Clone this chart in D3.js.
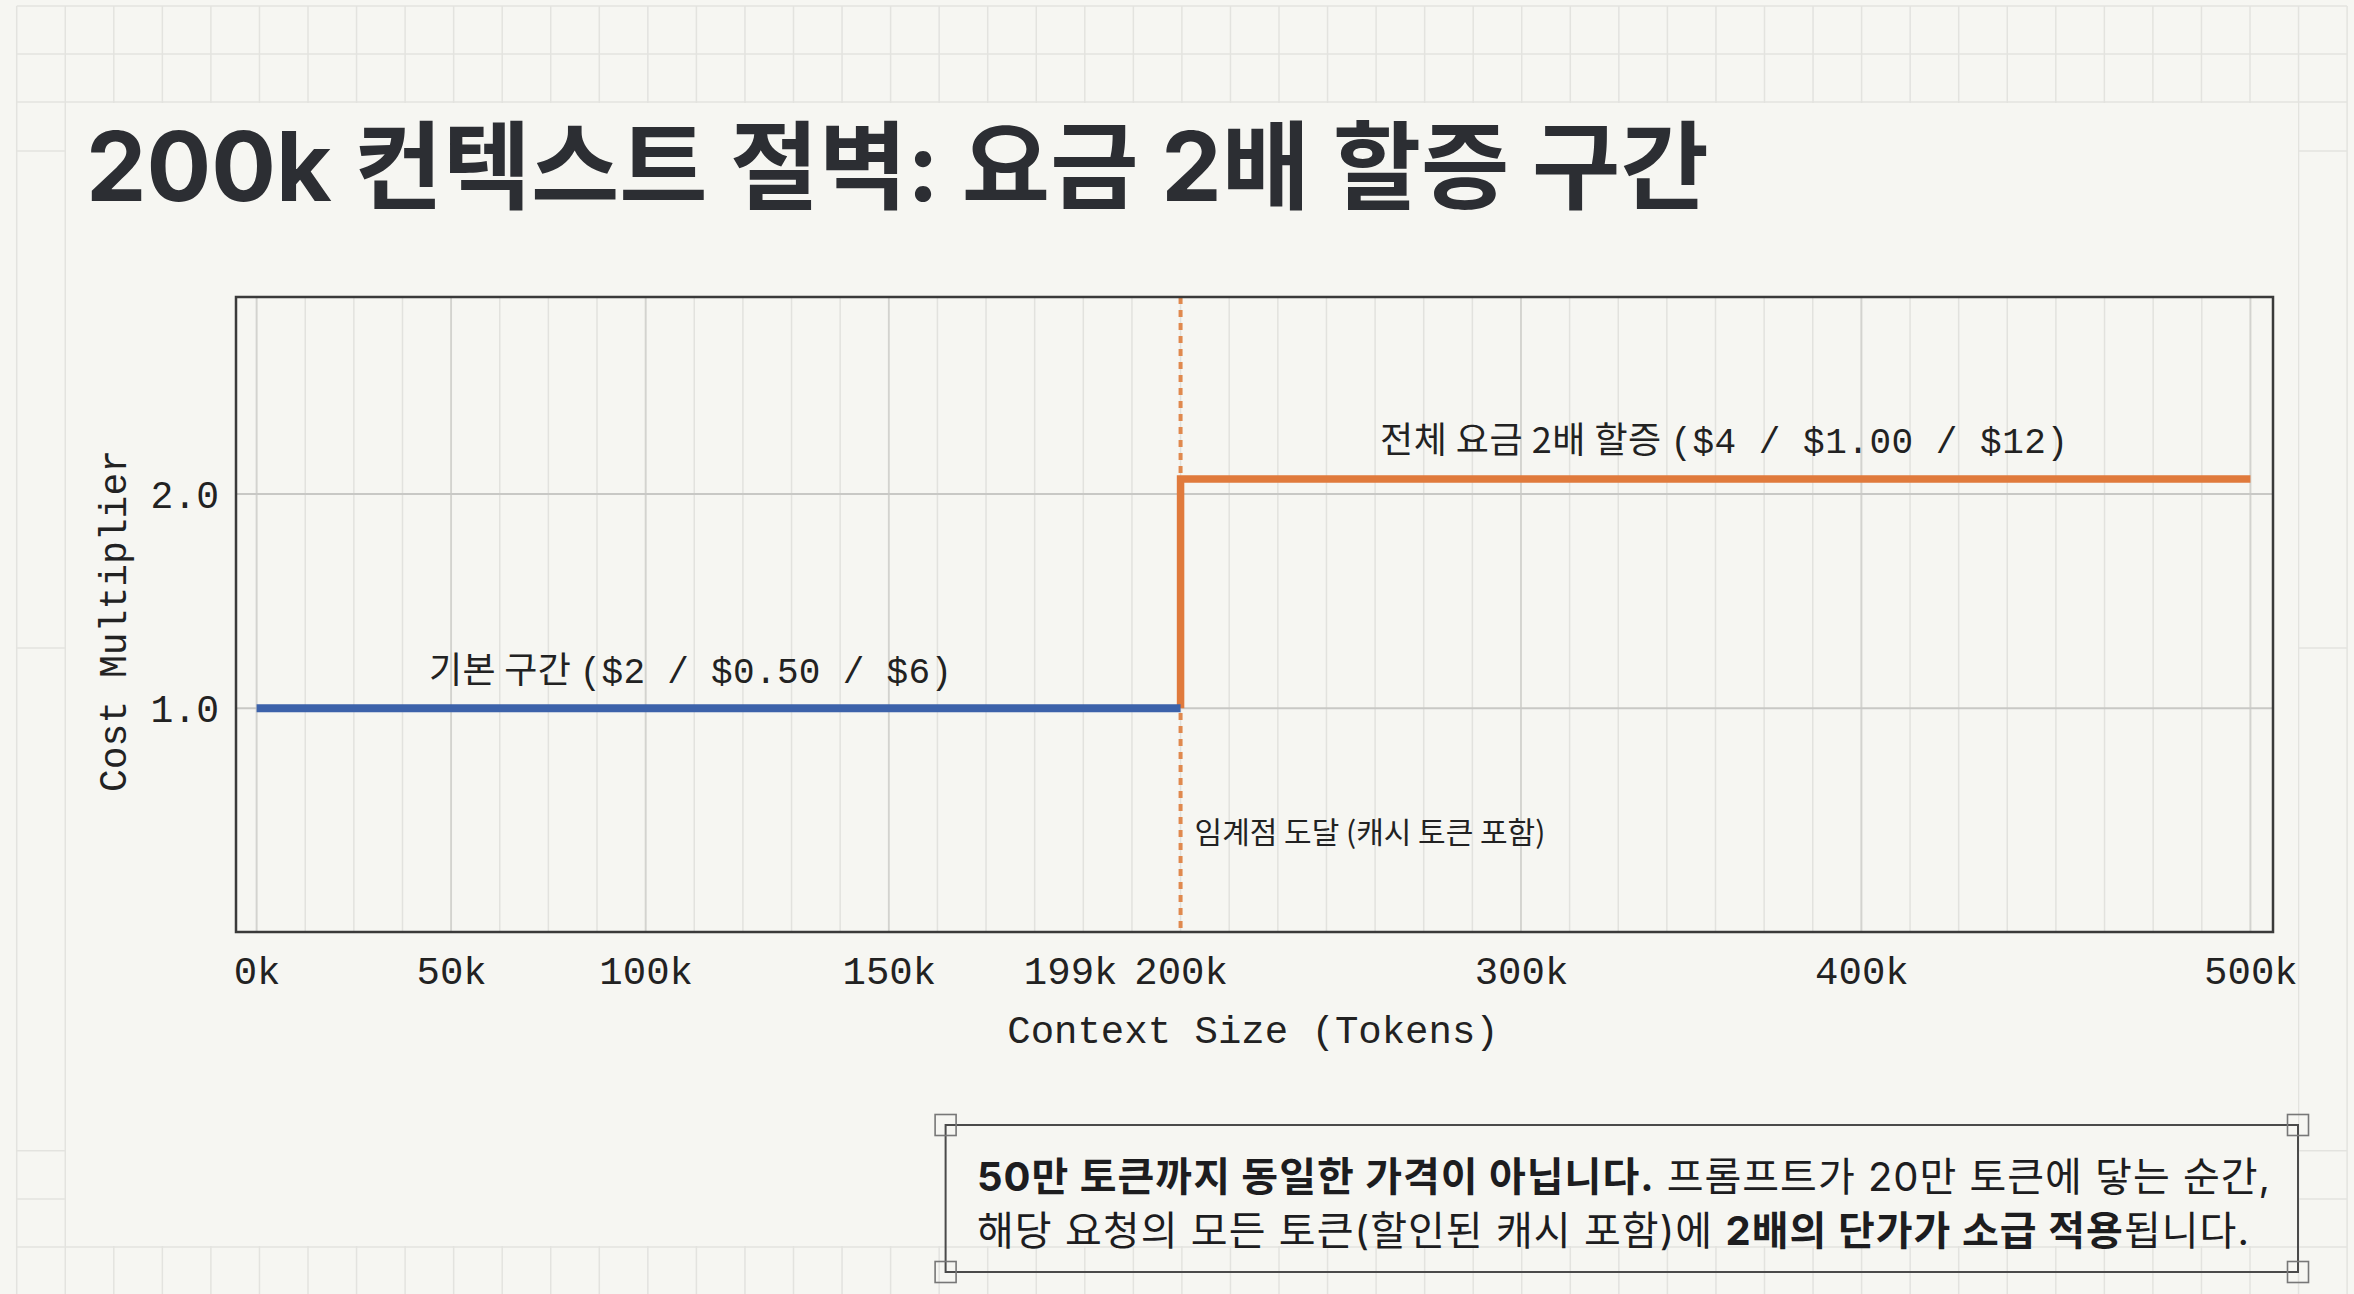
<!DOCTYPE html>
<html>
<head>
<meta charset="utf-8">
<script src="https://cdn.jsdelivr.net/npm/d3@7"></script>
<style>
  body { margin: 0; background: #f6f6f2; }
  svg { display: block; }
</style>
</head>
<body>
<div id="chart"></div>
<script>
// x axis ticks (thousands of tokens) and their labels
var tickValues = [0, 50, 100, 150, 199, 200, 300, 400, 500];
var tickLabels = ["0k", "50k", "100k", "150k", "199k", "200k", "300k", "400k", "500k"];
// the picture spaces the ticks unevenly; how many grid cells each tick sits from 0k
var tickCells = [0, 4, 8, 13, 16.73, 19, 26, 33, 41];
var yTicks = [1.0, 2.0];

// base pricing segment
var baseX = [0, 200];
var baseY = [1.0, 1.0];
// surcharge segment after the 200k cliff
var surchargeX = [200, 200, 500];
var surchargeY = [1.0, 2.07, 2.07];
var thresholdX = 200;

var titleText = "200k 컨텍스트 절벽: 요금 2배 할증 구간";
var baseLabel = ["기본 구간 ", "($2 / $0.50 / $6)"];
var surchargeLabel = ["전체 요금 2배 할증 ", "($4 / $1.00 / $12)"];
var thresholdLabel = "임계점 도달 (캐시 토큰 포함)";
var noteLine1 = [["50만 토큰까지 동일한 가격이 아닙니다.", true], [" 프롬프트가 20만 토큰에 닿는 순간,", false]];
var noteLine2 = [["해당 요청의 모든 토큰(할인된 캐시 포함)에 ", false], ["2배의 단가가 소급 적용", true], ["됩니다.", false]];

var W = 2354, H = 1294;
var bg = "#f6f6f2", gridCol = "#e3e3df";
var mono = "'Liberation Mono', 'Noto Sans CJK KR', monospace";
var kr = "'Noto Sans CJK KR', sans-serif";
var sans = "Inter, 'Noto Sans CJK KR', sans-serif";

var svg = d3.select("#chart").append("svg")
  .attr("width", W).attr("height", H);

svg.append("rect").attr("width", W).attr("height", H).attr("fill", bg);

// notebook grid behind the slide
var page = svg.append("g").attr("stroke", gridCol).attr("stroke-width", 1.5);
var cols = d3.range(0, 49).map(function(i) { return 16.7 + i * 48.55; });
page.selectAll(".gv").data(cols).enter().append("line")
  .attr("x1", d => d).attr("x2", d => d).attr("y1", 6).attr("y2", H);
page.selectAll(".gh").data([6, 54, 102, 1247]).enter().append("line")
  .attr("x1", 16.7).attr("x2", 2347).attr("y1", d => d).attr("y2", d => d);
[[16.7, 65], [2299, 2347]].forEach(function(s) {
  page.selectAll(null).data([151, 648, 1150.7, 1199]).enter().append("line")
    .attr("x1", s[0]).attr("x2", s[1]).attr("y1", d => d).attr("y2", d => d);
});
// plain content panel
svg.append("rect").attr("x", 66).attr("y", 103).attr("width", 2232).attr("height", 1143).attr("fill", bg);

// title
svg.append("text")
  .attr("x", 86).attr("y", 201)
  .style("font-family", sans).style("font-weight", 700).style("font-size", "96px")
  .attr("fill", "#2c2e33")
  .text(titleText);

// chart area
var margin = {top: 297, left: 236},
    w = 2037, h = 635;
var g = svg.append("g").attr("transform", `translate(${margin.left},${margin.top})`);

var x0 = 256.6 - margin.left, cell = 48.63;
const x = d3.scaleLinear()
  .domain(tickValues)
  .range(tickCells.map(c => x0 + c * cell));
const y = d3.scaleLinear()
  .domain([-0.045, 2.92])
  .range([h, 0]);

// minor vertical grid
var minor = d3.range(0, 42).map(i => x(0) + i * (x(500) - x(0)) / 41);
g.selectAll(".minor").data(minor).enter().append("line")
  .attr("x1", d => d).attr("x2", d => d).attr("y1", 0).attr("y2", h)
  .attr("stroke", "#e2e2de").attr("stroke-width", 1.5);
// major vertical grid at the round ticks
g.selectAll(".major").data(tickValues.filter(v => v % 50 === 0 && v !== thresholdX)).enter().append("line")
  .attr("x1", d => x(d)).attr("x2", d => x(d)).attr("y1", 0).attr("y2", h)
  .attr("stroke", "#d3d3cf").attr("stroke-width", 1.8);
// horizontal grid
g.selectAll(".hgrid").data(yTicks).enter().append("line")
  .attr("x1", 0).attr("x2", w).attr("y1", d => y(d)).attr("y2", d => y(d))
  .attr("stroke", "#c8c8c5").attr("stroke-width", 2);

// threshold marker
g.append("line")
  .attr("x1", x(thresholdX)).attr("x2", x(thresholdX)).attr("y1", 0).attr("y2", h)
  .attr("stroke", "#e0894e").attr("stroke-width", 4).attr("stroke-dasharray", "7,6");

var line = d3.line().x(d => x(d[0])).y(d => y(d[1]));
g.append("path")
  .datum(d3.zip(surchargeX, surchargeY))
  .attr("fill", "none").attr("stroke", "#e07a3c").attr("stroke-width", 7.5)
  .attr("d", line);
g.append("path")
  .datum(d3.zip(baseX, baseY))
  .attr("fill", "none").attr("stroke", "#3c62aa").attr("stroke-width", 8)
  .attr("d", line);

// frame
g.append("rect").attr("width", w).attr("height", h)
  .attr("fill", "none").attr("stroke", "#3a3a3a").attr("stroke-width", 2.5);

// axes
var xAxis = g.append("g").attr("transform", "translate(0," + h + ")")
  .call(d3.axisBottom(x).tickValues(tickValues).tickFormat((d, i) => tickLabels[i]).tickSize(0).tickPadding(0));
xAxis.select(".domain").remove();
xAxis.selectAll("text")
  .attr("y", 52).attr("dy", 0)
  .style("font-family", mono).style("font-size", "39px").attr("fill", "#222");

var yAxis = g.append("g")
  .call(d3.axisLeft(y).tickValues(yTicks).tickFormat(d3.format(".1f")).tickSize(0).tickPadding(17));
yAxis.select(".domain").remove();
yAxis.selectAll("text")
  .attr("dy", "0.36em")
  .style("font-family", mono).style("font-size", "38px").attr("fill", "#222");

g.append("text")
  .attr("x", 1253 - margin.left).attr("y", 1043 - margin.top)
  .style("text-anchor", "middle")
  .style("font-family", mono).style("font-size", "39px").attr("fill", "#222")
  .text("Context Size (Tokens)");

g.append("text")
  .attr("transform", "rotate(-90)")
  .attr("x", -(621 - margin.top)).attr("y", 126 - margin.left)
  .style("text-anchor", "middle")
  .style("font-family", mono).style("font-size", "38px").attr("fill", "#222")
  .text("Cost Multiplier");

// annotations: Korean words in a gothic face, prices in mono
function mixedLabel(parts, xPos, yPos, len) {
  var t = g.append("text").attr("x", xPos).attr("y", yPos)
    .attr("textLength", len).attr("lengthAdjust", "spacing")
    .style("font-size", "36px").attr("fill", "#222");
  t.append("tspan").style("font-family", kr).text(parts[0]);
  t.append("tspan").style("font-family", mono).text(parts[1]);
}
mixedLabel(baseLabel, 429 - margin.left, y(baseY[0]) - 25, 523);
mixedLabel(surchargeLabel, 1380 - margin.left, y(surchargeY[2]) - 26, 688);

g.append("text")
  .attr("x", x(thresholdX) + 14).attr("y", 843 - margin.top)
  .style("font-family", kr).style("font-size", "30px").attr("fill", "#222")
  .text(thresholdLabel);

// note box
var note = svg.append("g");
var bx = 945.6, by = 1125, bw = 2298 - 945.6, bh = 147;
note.append("rect").attr("x", bx).attr("y", by).attr("width", bw).attr("height", bh)
  .attr("fill", "none").attr("stroke", "#4a4a4a").attr("stroke-width", 2);
note.selectAll(".handle").data([[bx, by], [bx + bw, by], [bx, by + bh], [bx + bw, by + bh]])
  .enter().append("rect")
  .attr("x", d => d[0] - 10.5).attr("y", d => d[1] - 10.5)
  .attr("width", 21).attr("height", 21)
  .attr("fill", "none").attr("stroke", "#777").attr("stroke-width", 1.6);

[[noteLine1, 1191, 1293], [noteLine2, 1245, 1272]].forEach(function(l) {
  var t = note.append("text").attr("x", 977).attr("y", l[1])
    .attr("textLength", l[2]).attr("lengthAdjust", "spacing")
    .style("font-family", sans).style("font-size", "40px").attr("fill", "#1d1d1f");
  l[0].forEach(function(p) {
    t.append("tspan").style("font-weight", p[1] ? 700 : 400).text(p[0]);
  });
});
</script>
</body>
</html>
